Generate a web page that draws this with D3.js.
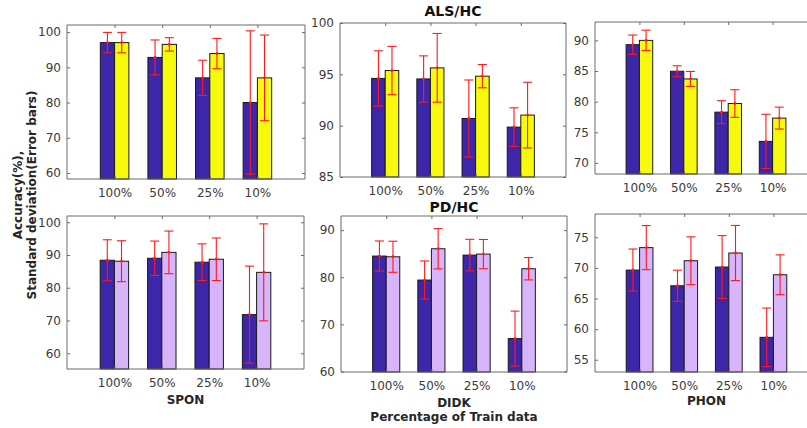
<!DOCTYPE html>
<html><head><meta charset="utf-8">
<script src="https://cdn.jsdelivr.net/npm/d3@7"></script>
<style>html,body{margin:0;padding:0;background:#fff;}svg{display:block;font-family:"DejaVu Sans",sans-serif;}</style>
</head><body>
<svg id="c" width="807" height="428"></svg>
<script>
const categories = ["100%", "50%", "25%", "10%"];

// ALS/HC
const alsSponA = [97.0, 92.8, 87.0, 80.0];
const alsSponAStd = [2.9, 4.95, 5.0, 20.35];
const alsSponB = [97.0, 96.5, 93.9, 87.0];
const alsSponBStd = [2.9, 1.9, 4.3, 12.15];

const alsDidkA = [94.6, 94.55, 90.7, 89.86];
const alsDidkAStd = [2.69, 2.25, 3.75, 1.88];
const alsDidkB = [95.37, 95.63, 94.82, 91.03];
const alsDidkBStd = [2.35, 3.35, 1.13, 3.2];

const alsPhonA = [89.3, 84.96, 78.29, 73.52];
const alsPhonAStd = [1.57, 0.9, 1.87, 4.42];
const alsPhonB = [90.0, 83.71, 79.7, 77.32];
const alsPhonBStd = [1.66, 1.22, 2.25, 1.79];

// PD/HC
const pdSponA = [88.4, 89.0, 87.8, 71.8];
const pdSponAStd = [6.25, 5.25, 5.6, 14.8];
const pdSponB = [88.1, 90.8, 88.7, 84.7];
const pdSponBStd = [6.25, 6.5, 6.5, 14.8];

const pdDidkA = [84.5, 79.41, 84.7, 66.99];
const pdDidkAStd = [3.2, 4.05, 3.35, 5.83];
const pdDidkB = [84.35, 86.05, 84.92, 81.81];
const pdDidkBStd = [3.3, 4.27, 3.1, 2.37];

const pdPhonA = [69.64, 67.08, 70.14, 58.66];
const pdPhonAStd = [3.44, 2.54, 5.13, 4.78];
const pdPhonB = [73.31, 71.17, 72.43, 68.88];
const pdPhonBStd = [3.6, 3.9, 4.5, 3.25];

const ticks1 = [60, 70, 80, 90, 100];
const ticks2 = [85, 90, 95, 100];
const ticks3 = [70, 75, 80, 85, 90];
const ticks4 = [60, 70, 80, 90, 100];
const ticks5 = [60, 70, 80, 90];
const ticks6 = [55, 60, 65, 70, 75];

const blue = "#3d26a8", yellow = "#f8fa0d", lilac = "#d8b4fb";

const panels = [
  {x0:67, x1:305, y0:25, y1:179, dom:[58.3,102], ticks:ticks1, A:alsSponA, As:alsSponAStd, B:alsSponB, Bs:alsSponBStd, colB:yellow},
  {x0:340, x1:566, y0:23, y1:177, dom:[85,100], ticks:ticks2, A:alsDidkA, As:alsDidkAStd, B:alsDidkB, Bs:alsDidkBStd, colB:yellow, title:"ALS/HC", titleY:16},
  {x0:595, x1:817, y0:22, y1:174, dom:[68.2,93], ticks:ticks3, A:alsPhonA, As:alsPhonAStd, B:alsPhonB, Bs:alsPhonBStd, colB:yellow},
  {x0:67, x1:304, y0:216, y1:369, dom:[55.2,101.9], ticks:ticks4, A:pdSponA, As:pdSponAStd, B:pdSponB, Bs:pdSponBStd, colB:lilac, xlabel:"SPON", xlY:404},
  {x0:341, x1:567, y0:216, y1:372, dom:[59.9,93], ticks:ticks5, A:pdDidkA, As:pdDidkAStd, B:pdDidkB, Bs:pdDidkBStd, colB:lilac, title:"PD/HC", titleY:212, xlabel:"DIDK", xlY:407},
  {x0:595, x1:818, y0:214, y1:372, dom:[53,78.8], ticks:ticks6, A:pdPhonA, As:pdPhonAStd, B:pdPhonB, Bs:pdPhonBStd, colB:lilac, xlabel:"PHON", xlY:405}
];

const svg = d3.select("#c");
const axisCol = "#6b6b6b", textCol = "#3a3a3a";

panels.forEach(p => {
  const x = d3.scaleLinear().domain([0, 5]).range([p.x0, p.x1]);
  const y = d3.scaleLinear().domain(p.dom).range([p.y1, p.y0]);
  const g = svg.append("g");
  const bw = 0.3;
  const series = [{v:p.A, s:p.As, col:blue, off:-bw}, {v:p.B, s:p.Bs, col:p.colB, off:0}];
  series.forEach(se => {
    se.v.forEach((v, i) => {
      const gx = i + 1;
      g.append("rect")
        .attr("x", x(gx + se.off)).attr("width", x(gx + se.off + bw) - x(gx + se.off))
        .attr("y", y(v)).attr("height", y(p.dom[0]) - y(v))
        .attr("fill", se.col).attr("stroke", "#1a1a1a").attr("stroke-width", 1);
    });
  });
  // axes box
  g.append("line").attr("x1", p.x0).attr("x2", p.x1).attr("y1", p.y1).attr("y2", p.y1).attr("stroke", axisCol);
  g.append("line").attr("x1", p.x0).attr("x2", p.x1).attr("y1", p.y0).attr("y2", p.y0).attr("stroke", axisCol);
  g.append("line").attr("x1", p.x0).attr("x2", p.x0).attr("y1", p.y0).attr("y2", p.y1).attr("stroke", axisCol);
  g.append("line").attr("x1", p.x1).attr("x2", p.x1).attr("y1", p.y0).attr("y2", p.y1).attr("stroke", axisCol);
  // error bars
  series.forEach(se => {
    se.v.forEach((v, i) => {
      const cx = x(i + 1 + se.off + bw / 2);
      const lo = y(v - se.s[i]), hi = y(v + se.s[i]);
      const eg = g.append("g").attr("stroke", "#ff1a1a").attr("stroke-width", 1.1);
      eg.append("line").attr("x1", cx).attr("x2", cx).attr("y1", lo).attr("y2", hi);
      eg.append("line").attr("x1", cx - 4.5).attr("x2", cx + 4.5).attr("y1", lo).attr("y2", lo);
      eg.append("line").attr("x1", cx - 4.5).attr("x2", cx + 4.5).attr("y1", hi).attr("y2", hi);
      g.append("circle").attr("cx", cx).attr("cy", y(v)).attr("r", 1.4).attr("fill", "#ff1a1a");
    });
  });
  // y ticks
  const yAxis = d3.axisLeft(y).tickValues(p.ticks).tickSize(-3).tickPadding(6);
  const ya = g.append("g").attr("transform", `translate(${p.x0},0)`).call(yAxis);
  ya.select(".domain").remove();
  ya.selectAll("line").attr("stroke", axisCol);
  ya.selectAll("text").attr("fill", textCol).attr("font-size", 12).attr("font-family", "DejaVu Sans");
  const yAxisR = d3.axisRight(y).tickValues(p.ticks).tickSize(-3).tickFormat("");
  const yr = g.append("g").attr("transform", `translate(${p.x1},0)`).call(yAxisR);
  yr.select(".domain").remove();
  yr.selectAll("line").attr("stroke", axisCol);
  // x ticks
  const xAxis = d3.axisBottom(x).tickValues([1, 2, 3, 4]).tickSize(-3).tickPadding(9)
    .tickFormat((d) => categories[d - 1]);
  const xa = g.append("g").attr("transform", `translate(0,${p.y1})`).call(xAxis);
  xa.select(".domain").remove();
  xa.selectAll("line").attr("stroke", axisCol);
  xa.selectAll("text").attr("fill", textCol).attr("font-size", 12).attr("font-family", "DejaVu Sans");
  const xAxisT = d3.axisTop(x).tickValues([1, 2, 3, 4]).tickSize(-3).tickFormat("");
  const xt = g.append("g").attr("transform", `translate(0,${p.y0})`).call(xAxisT);
  xt.select(".domain").remove();
  xt.selectAll("line").attr("stroke", axisCol);

  if (p.title) {
    svg.append("text").attr("x", (p.x0 + p.x1) / 2).attr("y", p.titleY).attr("text-anchor", "middle")
      .attr("font-weight", "bold").attr("font-size", 14).attr("fill", "#111").text(p.title);
  }
  if (p.xlabel) {
    svg.append("text").attr("x", (p.x0 + p.x1) / 2).attr("y", p.xlY).attr("text-anchor", "middle")
      .attr("font-weight", "bold").attr("font-size", 12).attr("fill", "#262626").text(p.xlabel);
  }
});

svg.append("text").attr("x", 454).attr("y", 421).attr("text-anchor", "middle")
  .attr("font-weight", "bold").attr("font-size", 12).attr("fill", "#262626").text("Percentage of Train data");

const yl = svg.append("text").attr("transform", "translate(22,195) rotate(-90)")
  .attr("text-anchor", "middle").attr("font-weight", "bold").attr("font-size", 12).attr("fill", "#262626");
yl.append("tspan").attr("x", 0).attr("y", 0).text("Accuracy(%),");
yl.append("tspan").attr("x", 0).attr("y", 14).text("Standard deviation(Error bars)");
</script>
</body></html>
